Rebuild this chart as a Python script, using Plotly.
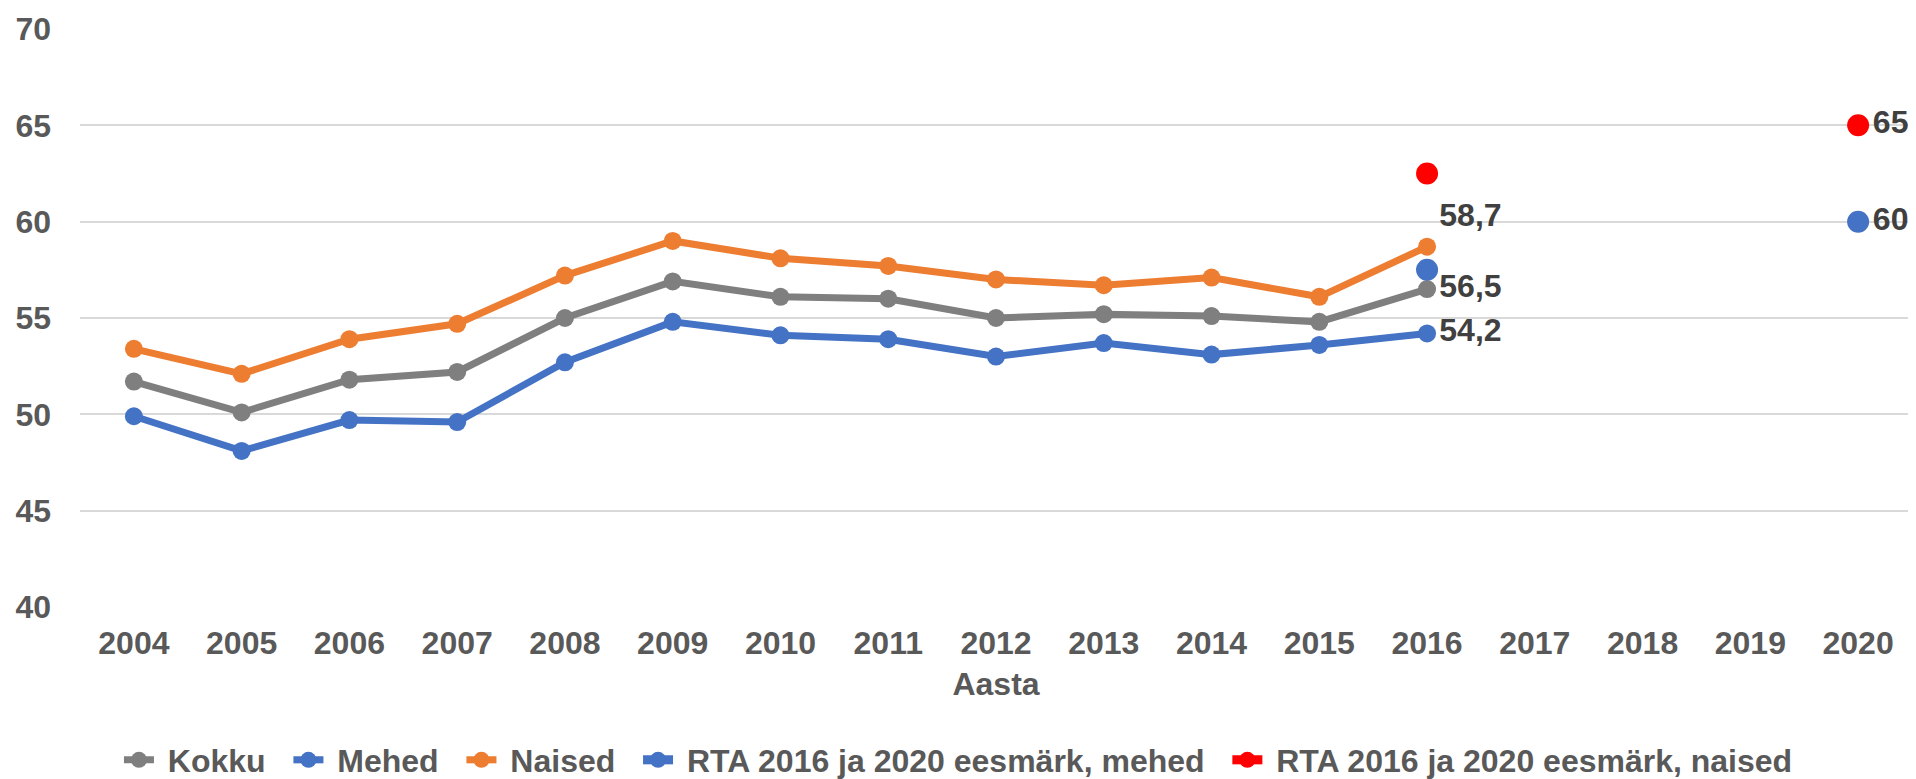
import plotly.graph_objects as go

years = ["2004", "2005", "2006", "2007", "2008", "2009", "2010", "2011", "2012",
         "2013", "2014", "2015", "2016", "2017", "2018", "2019", "2020"]
kokku = [51.7, 50.1, 51.8, 52.2, 55.0, 56.9, 56.1, 56.0, 55.0, 55.2, 55.1, 54.8, 56.5,
         None, None, None, None]
mehed = [49.9, 48.1, 49.7, 49.6, 52.7, 54.8, 54.1, 53.9, 53.0, 53.7, 53.1, 53.6, 54.2,
         None, None, None, None]
naised = [53.4, 52.1, 53.9, 54.7, 57.2, 59.0, 58.1, 57.7, 57.0, 56.7, 57.1, 56.1, 58.7,
          None, None, None, None]
rta_mehed = [None] * 12 + [57.5, None, None, None, 60]
rta_naised = [None] * 12 + [62.5, None, None, None, 65]

# which points carry a data label
label_kokku = [12]
label_mehed = [12]
label_naised = [12]
label_rta_mehed = [16]
label_rta_naised = [16]

series_names = ["Kokku", "Mehed", "Naised",
                "RTA 2016 ja 2020 eesmärk, mehed", "RTA 2016 ja 2020 eesmärk, naised"]

FONT = "Liberation Sans, Arial, sans-serif"
TXT = "#595959"
LBL = "#404040"
NB = "\u00a0"


def fmt(v):
    if v is None:
        return ""
    s = f"{v:g}"
    return s.replace(".", ",")


def labels(vals, idx):
    return [fmt(v) if i in idx else "" for i, v in enumerate(vals)]


fig = go.Figure()

specs = [
    (kokku, series_names[0], "#7F7F7F", label_kokku, "middle right", 7, 18),
    (mehed, series_names[1], "#4472C4", label_mehed, "middle right", 7, 18),
    (naised, series_names[2], "#ED7D31", label_naised, "top right", 7, 18),
    (rta_mehed, series_names[3], "#4472C4", label_rta_mehed, "middle right", 9, 22),
    (rta_naised, series_names[4], "#FF0000", label_rta_naised, "middle right", 9, 22),
]

for vals, name, color, idx, tpos, lw, ms in specs:
    fig.add_trace(go.Scatter(
        x=years, y=vals, name=NB + name + NB * 2, mode="lines+markers+text",
        line=dict(color=color, width=lw),
        marker=dict(color=color, size=ms),
        text=labels(vals, idx), textposition=tpos,
        textfont=dict(family=FONT, size=32, color=LBL, weight="bold"),
        connectgaps=False, cliponaxis=False,
    ))

# the page body adds an 8px offset, so the figure is 8px smaller than the window
fig.update_layout(
    width=1908, height=771,
    margin=dict(l=72, r=4, t=21, b=172, autoexpand=False),
    paper_bgcolor="white", plot_bgcolor="white",
    font=dict(family=FONT, size=32, color=TXT, weight="bold"),
    showlegend=True,
    legend=dict(orientation="h", xref="container", yref="container",
                x=0.5026, xanchor="center", y=0.0246, yanchor="middle",
                font=dict(family=FONT, size=32, color=TXT, weight="bold"),
                itemwidth=30, tracegroupgap=0, bgcolor="rgba(0,0,0,0)"),
    xaxis=dict(
        type="category", categoryorder="array", categoryarray=years,
        range=[-0.5, 16.5], showgrid=False, zeroline=False, showline=False,
        ticks="", ticklabelstandoff=14, automargin=False,
        tickfont=dict(family=FONT, size=32, color=TXT, weight="bold"),
        title=dict(text="Aasta", standoff=12,
                   font=dict(family=FONT, size=32, color=TXT, weight="bold")),
    ),
    yaxis=dict(
        range=[40, 70], dtick=5, tick0=40, showgrid=True, gridcolor="#D9D9D9",
        gridwidth=2, zeroline=False, showline=False, ticks="",
        ticklabelstandoff=28, automargin=False,
        tickfont=dict(family=FONT, size=32, color=TXT, weight="bold"),
    ),
)

fig.write_html("out.html")
